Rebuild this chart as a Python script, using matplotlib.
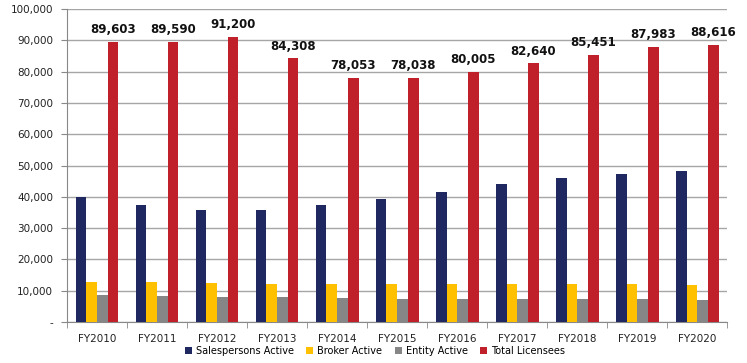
import matplotlib
matplotlib.use("Agg")
import matplotlib.pyplot as plt
import numpy as np
from matplotlib.ticker import FuncFormatter, FixedLocator

years = ["FY2010", "FY2011", "FY2012", "FY2013", "FY2014", "FY2015",
         "FY2016", "FY2017", "FY2018", "FY2019", "FY2020"]
salespersons = [40000, 37300, 35700, 35900, 37500, 39200, 41400, 44100, 46100, 47300, 48100]
broker = [12900, 12900, 12500, 12000, 12100, 12000, 12000, 12000, 12000, 12000, 11700]
entity = [8600, 8400, 8100, 7900, 7600, 7500, 7300, 7200, 7200, 7200, 7000]
total = [89603, 89590, 91200, 84308, 78053, 78038, 80005, 82640, 85451, 87983, 88616]

series = [
    ("Salespersons Active", salespersons, "#1F2860"),
    ("Broker Active", broker, "#FFC000"),
    ("Entity Active", entity, "#868686"),
    ("Total Licensees", total, "#C0202A"),
]

fig = plt.figure(figsize=(7.47, 3.63), dpi=100)
ax = fig.add_axes([0.0897, 0.113, 0.884, 0.862])

x = np.arange(len(years))
w = 0.178
for i, (name, vals, col) in enumerate(series):
    bars = ax.bar(x + (i - 1.5) * w, vals, width=w, color=col, label=name, zorder=3)
    if name == "Total Licensees":
        for b, v in zip(bars, vals):
            ax.annotate(f"{v:,}", (b.get_x() + b.get_width() / 2, v),
                        xytext=(0, 4), textcoords="offset points",
                        ha="center", va="bottom", fontsize=8.5, fontweight="bold",
                        color="#111111")

ax.set_xlim(-0.5, len(years) - 0.5)
ax.set_ylim(0, 100000)
ax.set_yticks(np.arange(0, 100001, 10000))
ax.yaxis.set_major_formatter(FuncFormatter(lambda v, p: "-" if v == 0 else f"{int(v):,}"))
ax.set_xticks(x)
ax.set_xticklabels(years)
ax.xaxis.set_minor_locator(FixedLocator(np.arange(-0.5, len(years), 1.0)))
ax.tick_params(axis="x", which="major", length=0, labelsize=7.5, pad=9, colors="#222222")
ax.tick_params(axis="x", which="minor", length=4, color="#888888", direction="out")
ax.tick_params(axis="y", length=4, color="#888888", labelsize=7.5, labelcolor="#222222", pad=6)

ax.grid(axis="y", color="#A6A6A6", linewidth=1, zorder=0)
for s in ["top", "right"]:
    ax.spines[s].set_visible(False)
ax.spines["left"].set_color("#888888")
ax.spines["bottom"].set_color("#888888")

fig.legend(loc="lower center", bbox_to_anchor=(0.502, -0.005), ncol=4, frameon=False,
           fontsize=7, handlelength=0.7, handleheight=0.7, handletextpad=0.4,
           columnspacing=1.3)

fig.savefig("out.png", dpi=100)
